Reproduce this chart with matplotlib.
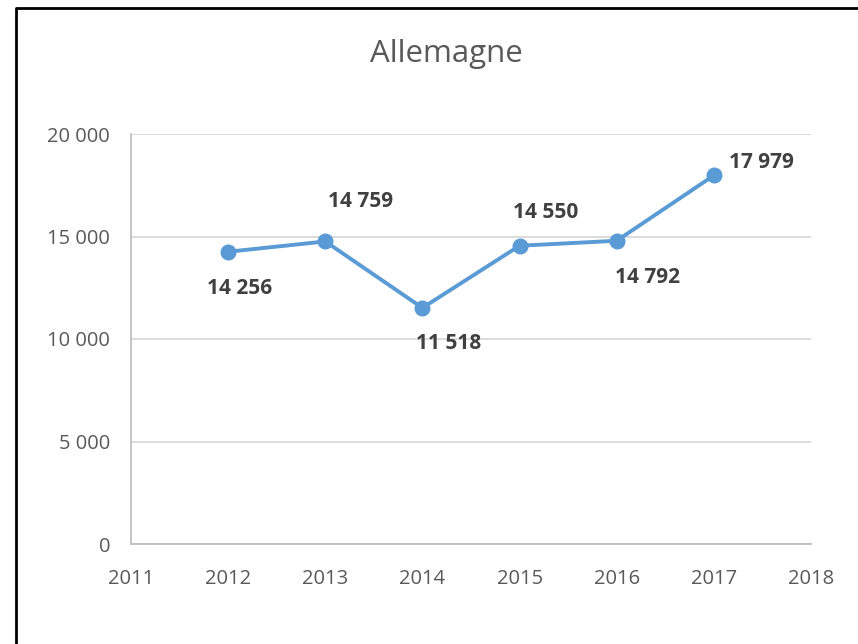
import matplotlib.pyplot as plt
from matplotlib.lines import Line2D

years = [2012, 2013, 2014, 2015, 2016, 2017]
values = [14256, 14759, 11518, 14550, 14792, 17979]
# label offsets in pixels (dx, dy, horizontal alignment)
label_offsets = [(11, -37, 'center'), (35, 40, 'center'), (26, -36, 'center'),
                 (26, 33, 'center'), (31, -37, 'center'), (15, 13, 'left')]
x_ticks = list(range(2011, 2019))
y_ticks = [0, 5000, 10000, 15000, 20000]


def fmt(v):
    return f"{v:,}".replace(",", " ")


plt.rcParams['font.family'] = ['Open Sans', 'DejaVu Sans']

fig = plt.figure(figsize=(8.58, 6.44), dpi=100)
ax = fig.add_axes([131 / 858, 100 / 644, 680 / 858, 410 / 644])

# chart border (only the left and top edges are in the picture)
fig.lines.append(Line2D([16 / 858, 16 / 858, 1], [0, 1 - 8 / 644, 1 - 8 / 644],
                        transform=fig.transFigure, color='black', linewidth=2))

ax.plot(years, values, color='#5B9BD5', linewidth=2.8, marker='o',
        markersize=10.5, zorder=3)

for x, y, (dx, dy, ha) in zip(years, values, label_offsets):
    ax.annotate(fmt(y), (x, y), xytext=(dx, dy), textcoords='offset pixels',
                ha=ha, va='center', fontsize=15, fontweight='bold',
                color='#404040')

ax.set_xlim(2011, 2018)
ax.set_ylim(0, 20000)
ax.set_xticks(x_ticks)
ax.set_yticks(y_ticks)
ax.set_yticklabels([fmt(v) for v in y_ticks])
ax.grid(axis='y', color='#D9D9D9', linewidth=1.3)
ax.set_axisbelow(True)
for s in ['top', 'right']:
    ax.spines[s].set_visible(False)
for s in ['left', 'bottom']:
    ax.spines[s].set_color('#BFBFBF')
    ax.spines[s].set_linewidth(1.3)
ax.tick_params(length=0, labelsize=14.5, labelcolor='#595959')
ax.tick_params(axis='x', pad=18)
ax.tick_params(axis='y', pad=15)

fig.text(446 / 858, 1 - 54 / 644, 'Allemagne', ha='center', va='center',
         fontsize=22.5, color='#595959')

fig.savefig('out.png', dpi=100)
